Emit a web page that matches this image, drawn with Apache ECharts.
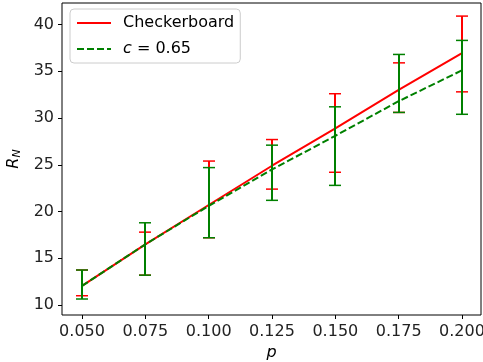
<!DOCTYPE html>
<html>
<head>
<meta charset="utf-8">
<script src="https://cdn.jsdelivr.net/npm/echarts@6/dist/echarts.min.js"></script>
<style>
  html, body { margin: 0; padding: 0; background: #fff; }
  #chart { width: 483px; height: 362px; }
</style>
</head>
<body>
<div id="chart"></div>
<script>
// p values (x)
const pValues = [0.05, 0.075, 0.1, 0.125, 0.15, 0.175, 0.2];
// Checkerboard: mean + error bar ends
const checkerMean = [12.05, 16.5, 20.7, 24.9, 28.9, 33.0, 36.95];
const checkerLow  = [11.0, 13.2, 17.2, 22.4, 24.2, 30.6, 32.8];
const checkerHigh = [13.75, 17.8, 25.4, 27.7, 32.6, 35.9, 40.9];
// c = 0.65
const cMean = [12.05, 16.5, 20.6, 24.5, 28.1, 31.8, 35.1];
const cLow  = [10.65, 13.2, 17.2, 21.2, 22.8, 30.6, 30.4];
const cHigh = [13.75, 18.8, 24.7, 27.1, 31.2, 36.8, 38.3];
// ticks
const xTicks = [0.05, 0.075, 0.1, 0.125, 0.15, 0.175, 0.2];
const yTicks = [10, 15, 20, 25, 30, 35, 40];

const font = 'DejaVu Sans';
const chart = echarts.init(document.getElementById('chart'));

// error bars: vertical line + caps (snapped to pixels like matplotlib)
function errBars(color) {
  return function (params, api) {
    const x = api.value(0);
    const lo = api.coord([x, api.value(1)]);
    const hi = api.coord([x, api.value(2)]);
    const px = Math.round(lo[0]);
    const cap = 6;
    const style = { stroke: color, lineWidth: 2 };
    return {
      type: 'group',
      children: [
        { type: 'line', shape: { x1: px, y1: lo[1], x2: px, y2: hi[1] }, style: style },
        { type: 'line', shape: { x1: px - cap, y1: lo[1], x2: px + cap, y2: lo[1] }, style: { stroke: color, lineWidth: 1.5 } },
        { type: 'line', shape: { x1: px - cap, y1: hi[1], x2: px + cap, y2: hi[1] }, style: { stroke: color, lineWidth: 1.5 } }
      ]
    };
  };
}

const option = {
  animation: false,
  grid: {
    left: 62, right: 2, top: 3, bottom: 47,
    outerBoundsMode: 'none',
    containLabel: false,
    show: true, borderColor: '#000', borderWidth: 1
  },
  legend: {
    orient: 'vertical',
    left: 70, top: 9,
    padding: [6, 6, 6, 6],
    itemWidth: 34, itemHeight: 14, itemGap: 10,
    backgroundColor: 'rgba(255,255,255,0.8)',
    borderColor: '#cccccc', borderWidth: 1, borderRadius: 4,
    itemStyle: { opacity: 0 },
    data: ['Checkerboard', 'c = 0.65'],
    formatter: function (name) {
      return name === 'c = 0.65' ? '{i|c} = 0.65' : name;
    },
    textStyle: {
      fontFamily: font, fontSize: 16, color: '#000', padding: [0, 0, 0, 7],
      rich: { i: { fontFamily: font, fontSize: 16, fontStyle: 'italic', color: '#000' } }
    }
  },
  xAxis: {
    type: 'value',
    min: 0.0421, max: 0.2075,
    name: 'p', nameLocation: 'middle', nameGap: 27,
    nameTextStyle: { fontFamily: font, fontSize: 16, fontStyle: 'italic', color: '#000' },
    splitLine: { show: false },
    axisLine: { show: false },
    axisTick: { show: true, inside: false, length: 4, customValues: xTicks, lineStyle: { color: '#000' } },
    axisLabel: {
      customValues: xTicks, margin: 9,
      fontFamily: font, fontSize: 16, color: '#222',
      formatter: function (v) { return v.toFixed(3); }
    }
  },
  yAxis: {
    type: 'value',
    min: 8.94, max: 42.3,
    name: '{r|R}{n|N}', nameLocation: 'middle', nameGap: 38,
    nameTextStyle: {
      rich: {
        r: { fontFamily: font, fontSize: 16, fontStyle: 'italic', color: '#000' },
        n: { fontFamily: font, fontSize: 11, fontStyle: 'italic', color: '#000', verticalAlign: 'bottom', padding: [6, 0, 0, 0] }
      }
    },
    splitLine: { show: false },
    axisLine: { show: false },
    axisTick: { show: true, inside: false, length: 4, customValues: yTicks, lineStyle: { color: '#000' } },
    axisLabel: {
      customValues: yTicks, margin: 8, padding: [3, 0, 0, 0],
      fontFamily: font, fontSize: 16, color: '#222'
    }
  },
  series: [
    {
      name: 'Checkerboard', type: 'line', symbol: 'none',
      color: '#ff0000',
      lineStyle: { color: '#ff0000', width: 2 },
      data: pValues.map((p, i) => [p, checkerMean[i]]),
      z: 2
    },
    {
      name: 'Checkerboard err', type: 'custom',
      renderItem: errBars('#ff0000'),
      encode: { x: 0, y: [1, 2] },
      data: pValues.map((p, i) => [p, checkerLow[i], checkerHigh[i]]),
      z: 3
    },
    {
      name: 'c = 0.65', type: 'line', symbol: 'none',
      color: '#008000',
      lineStyle: { color: '#008000', width: 2, type: [7, 3] },
      data: pValues.map((p, i) => [p, cMean[i]]),
      z: 4
    },
    {
      name: 'c err', type: 'custom',
      renderItem: errBars('#008000'),
      encode: { x: 0, y: [1, 2] },
      data: pValues.map((p, i) => [p, cLow[i], cHigh[i]]),
      z: 5
    }
  ]
};
chart.setOption(option);
</script>
</body>
</html>
